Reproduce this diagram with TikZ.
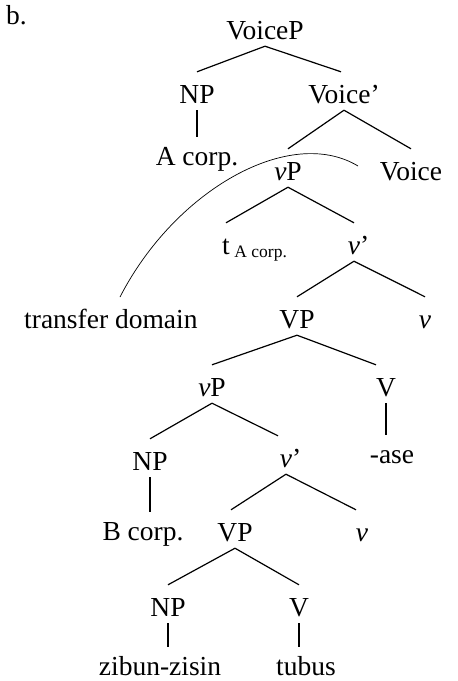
\documentclass[tikz,border=0pt]{standalone}
\usepackage{fontspec}
\setmainfont{Liberation Serif}
% branching edge: from just below the mother to well above the daughter
\newcommand\treebranch[3][]{\draw[edge] ([yshift=-7pt]#2.south) -- ([#1,yshift=12pt]#3.north);}
% non-branching edge: a vertical stroke under the mother
\newcommand\treeunary[2]{%
  \path (#2.north -| #1.south) coordinate (unaryEnd);
  \draw[edge] ([yshift=-7pt]#1.south) -- ([yshift=9pt]unaryEnd);}
\begin{document}
\begin{tikzpicture}[x=1pt,y=-1pt,
  lab/.style={font=\fontsize{27.5}{32}\selectfont, inner sep=0pt, anchor=base,
              text height=19pt, text depth=0pt},
  edge/.style={line width=1.2pt},
  domainarc/.style={line width=0.7pt}]
\useasboundingbox (0,0) rectangle (458,681);

\node[lab, anchor=base west] (lbl) at (6,24) {b.};

% nodes of the tree
\node[lab] (voiceP)   at (265,39)  {VoiceP};
\node[lab] (np1)      at (197,103) {NP};
\node[lab] (voiceBar) at (344,103) {Voice’};
\node[lab] (acorp)    at (197,165) {A corp.};
\node[lab] (vp1)      at (288,180) {\textit{v}P};
\node[lab] (voice)    at (411,180) {Voice};
\node[lab] (trace)    at (226,254) {t\rlap{\,\raisebox{-3pt}{\fontsize{17.5}{20}\selectfont A corp.}}};
\node[lab] (vbar1)    at (354,254) {\textit{v}\rlap{’}};
\node[lab, anchor=base west] (transfer) at (24,328) {transfer domain};
\node[lab] (VP1)      at (297,328) {VP};
\node[lab] (vhead1)   at (425,328) {\textit{v}};
\node[lab] (vp2)      at (212,396) {\textit{v}P};
\node[lab] (V1)       at (386,396) {V};
\node[lab] (ase)      at (392,463) {-ase};
\node[lab] (np2)      at (150,470) {NP};
\node[lab] (vbar2)    at (286,467) {\textit{v}\rlap{’}};
\node[lab] (bcorp)    at (143,540) {B corp.};
\node[lab] (VP2)      at (235,541) {VP};
\node[lab] (vhead2)   at (362,541) {\textit{v}};
\node[lab] (np3)      at (168,616) {NP};
\node[lab] (V2)       at (299,616) {V};
\node[lab] (zibun)    at (160,675) {zibun-zisin};
\node[lab] (tubus)    at (306,675) {tubus};

% edges
\treebranch{voiceP}{np1}
\treebranch[xshift=-3pt]{voiceP}{voiceBar}
\treeunary{np1}{acorp}
\treebranch{voiceBar}{vp1}
\treebranch{voiceBar}{voice}
\treebranch{vp1}{trace}
\treebranch{vp1}{vbar1}
\treebranch{vbar1}{VP1}
\treebranch{vbar1}{vhead1}
\treebranch{VP1}{vp2}
\treebranch[xshift=-10pt]{VP1}{V1}
\treeunary{V1}{ase}
\treebranch{vp2}{np2}
\treebranch[xshift=-8pt]{vp2}{vbar2}
\treeunary{np2}{bcorp}
\treebranch[xshift=-4pt]{vbar2}{VP2}
\treebranch[xshift=-6pt]{vbar2}{vhead2}
\treebranch{VP2}{np3}
\treebranch{VP2}{V2}
\treeunary{np3}{zibun}
\treeunary{V2}{tubus}

% the transfer domain boundary
\coordinate (arcStart) at (120,297);
\coordinate (arcEnd)   at (358,166);
\draw[domainarc] (arcStart) .. controls (175,190) and (290,125) .. (arcEnd);
\end{tikzpicture}
\end{document}
